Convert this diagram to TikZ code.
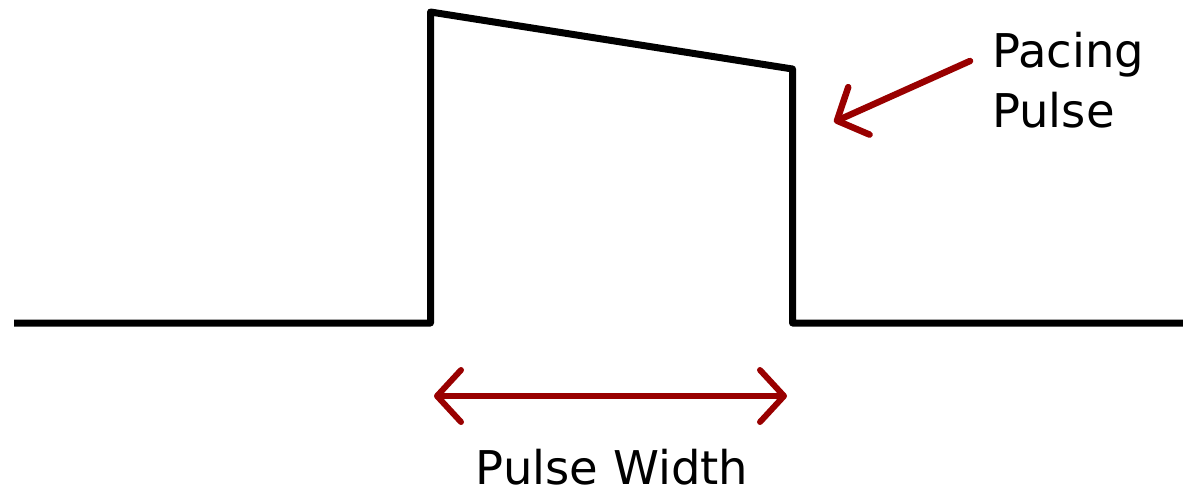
\documentclass[tikz,border=0pt]{standalone}
\usepackage{fontspec}
\setmainfont{DejaVu Sans}
\usetikzlibrary{arrows.meta}
\definecolor{darkred}{HTML}{990000}
\tikzset{
  wave/.style={line width=7pt, line join=round, black},
  redarrow/.style={draw=darkred, line width=6.5pt, line cap=round,
    arrows={-Straight Barb[length=24pt,width=52pt,round]}},
  dblarrow/.style={draw=darkred, line width=6pt, line cap=round,
    arrows={Straight Barb[length=24pt,width=52pt,round]-Straight Barb[length=24pt,width=52pt,round]}},
  lbl/.style={inner sep=0pt, font=\fontsize{46.5pt}{60pt}\selectfont}
}
\begin{document}
\begin{tikzpicture}[x=1pt,y=-1pt]
\useasboundingbox (0,0) rectangle (1183,491);
\coordinate (w0) at (14,323);
\coordinate (w1) at (430.5,323);
\coordinate (w2) at (430.5,12);
\coordinate (w3) at (792.5,69);
\coordinate (w4) at (792.5,323);
\coordinate (w5) at (1183,323);
\draw[wave] (w0) -- (w1) -- (w2) -- (w3) -- (w4) -- (w5);
\node[lbl, anchor=base west] (pp) at (992,67) {Pacing};
\node[lbl, anchor=base west] (pp2) at (992,127) {Pulse};
\coordinate (a0) at (970,61);
\coordinate (a1) at (834,122);
\draw[redarrow] (a0) -- (a1);
\coordinate (b0) at (434,396);
\coordinate (b1) at (787,396);
\draw[dblarrow] (b0) -- (b1);
\node[lbl, anchor=base, text depth=0pt] (pw) at (612,484) {Pulse Width};
\end{tikzpicture}
\end{document}
